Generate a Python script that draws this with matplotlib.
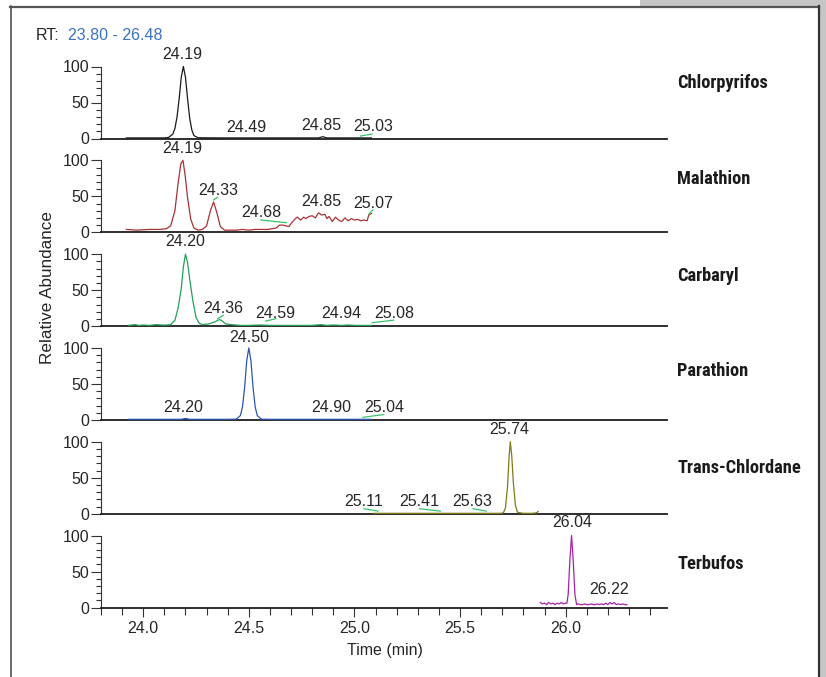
import matplotlib
matplotlib.use("Agg")
import matplotlib.pyplot as plt
from matplotlib.lines import Line2D
from matplotlib.patches import Rectangle
from matplotlib.ticker import MultipleLocator, FixedLocator
from matplotlib import font_manager as fm

plt.rcParams['font.family'] = ['Liberation Sans', 'DejaVu Sans']

# ---------------- data ----------------
compounds = ["Chlorpyrifos", "Malathion", "Carbaryl", "Parathion", "Trans-Chlordane", "Terbufos"]
rt_range = (23.80, 26.48)

t_chlorpyrifos = [23.92, 24.00, 24.10, 24.12, 24.14, 24.15, 24.16, 24.17, 24.18, 24.19, 24.20, 24.21,
                  24.22, 24.23, 24.24, 24.26, 24.40, 24.60, 24.83, 24.85, 24.87, 25.00, 25.08]
v_chlorpyrifos = [0.8, 0.8, 0.8, 1.5, 6, 14, 30, 55, 85, 100, 85, 55,
                  28, 12, 4, 1, 0.8, 0.8, 0.8, 2.5, 0.8, 0.8, 0.8]

t_malathion = [23.92, 23.97, 24.03, 24.08, 24.11, 24.13, 24.15, 24.165, 24.178, 24.188, 24.198, 24.21,
               24.225, 24.24, 24.26, 24.28, 24.30, 24.318, 24.333, 24.348, 24.365, 24.385, 24.41, 24.44,
               24.47, 24.50, 24.53, 24.56, 24.59, 24.61, 24.63, 24.645, 24.66, 24.675, 24.69, 24.705,
               24.72, 24.73, 24.745, 24.76, 24.77, 24.785, 24.80, 24.815, 24.83, 24.845, 24.86, 24.87,
               24.88, 24.895, 24.91, 24.925, 24.94, 24.955, 24.97, 24.985, 25.00, 25.015, 25.03, 25.045,
               25.06, 25.068, 25.08]
v_malathion = [4, 3, 4, 4, 5, 9, 30, 68, 95, 100, 80, 48,
               18, 6, 3, 4, 9, 30, 42, 28, 8, 3, 3, 3,
               4, 3, 4, 4, 4, 5, 6, 10, 10, 9, 8, 14,
               19, 21, 17, 21, 19, 22, 23, 20, 27, 24, 25, 19,
               22, 15, 21, 17, 15, 20, 16, 19, 17, 18, 16, 17,
               16, 24, 26]

t_carbaryl = [23.93, 23.96, 23.98, 24.00, 24.03, 24.06, 24.09, 24.11, 24.13, 24.15, 24.165, 24.18,
              24.19, 24.20, 24.21, 24.22, 24.235, 24.25, 24.265, 24.28, 24.31, 24.34, 24.36, 24.37,
              24.39, 24.42, 24.46, 24.50, 24.55, 24.60, 24.65, 24.70, 24.75, 24.80, 24.84, 24.87,
              24.90, 24.94, 24.97, 25.00, 25.03, 25.06, 25.08]
v_carbaryl = [1, 2, 1, 1.5, 1, 2, 1.5, 1.5, 2, 8, 25, 52,
              82, 100, 88, 65, 35, 12, 4, 2, 3, 6, 9, 8,
              3, 2, 1, 1, 1.5, 1, 1, 1, 1, 1, 2, 1,
              1.5, 1, 1.5, 1, 1, 1, 1]

t_parathion = [23.93, 24.00, 24.10, 24.18, 24.20, 24.22, 24.30, 24.40, 24.44, 24.46, 24.47, 24.48,
               24.49, 24.50, 24.51, 24.52, 24.53, 24.54, 24.56, 24.60, 24.70, 24.80, 24.90, 25.00, 25.08]
v_parathion = [0.8, 0.8, 0.8, 0.8, 2, 0.8, 0.8, 0.8, 1, 6, 18, 45,
               82, 100, 82, 45, 18, 6, 1, 0.8, 0.8, 0.8, 0.8, 0.8, 0.8]

t_chlordane = [25.09, 25.20, 25.30, 25.40, 25.50, 25.60, 25.69, 25.705, 25.715, 25.725, 25.732, 25.738,
               25.745, 25.752, 25.762, 25.772, 25.80, 25.84, 25.86, 25.87]
v_chlordane = [0.5, 0.5, 0.5, 0.5, 0.5, 0.5, 0.5, 1, 8, 38, 78, 100,
               80, 45, 12, 2, 0.5, 0.5, 1, 3]

t_terbufos = [25.88, 25.89, 25.90, 25.91, 25.92, 25.93, 25.94, 25.95, 25.96, 25.97, 25.98, 25.99, 26.00,
              26.006, 26.012, 26.020, 26.028, 26.036, 26.044, 26.052,
              26.06, 26.07, 26.08, 26.09, 26.10, 26.11, 26.12, 26.13, 26.14, 26.15, 26.16, 26.17,
              26.18, 26.19, 26.20, 26.21, 26.22, 26.23, 26.24, 26.25, 26.26, 26.27, 26.28, 26.29]
v_terbufos = [7, 5, 6, 4, 7, 5, 6, 4, 6, 5, 7, 5, 6,
              6, 18, 65, 100, 65, 18, 4,
              5, 4, 4, 5, 4, 4, 5, 4, 4, 5, 4, 5,
              4, 6, 4, 7, 5, 7, 4, 5, 4, 5, 4, 4]

times = [t_chlorpyrifos, t_malathion, t_carbaryl, t_parathion, t_chlordane, t_terbufos]
values = [v_chlorpyrifos, v_malathion, v_carbaryl, v_parathion, v_chlordane, v_terbufos]

# peak labels (retention times shown on each trace)
peak_labels = [
    [24.19, 24.49, 24.85, 25.03],
    [24.19, 24.33, 24.68, 24.85, 25.07],
    [24.20, 24.36, 24.59, 24.94, 25.08],
    [24.50, 24.20, 24.90, 25.04],
    [25.74, 25.11, 25.41, 25.63],
    [26.04, 26.22],
]

# ---------------- layout / style ----------------
colors = ["#1a1a1a", "#a83236", "#23a05a", "#2a55b0", "#7c7a18", "#a424a8"]
marker_green = "#35c46a"
txt_col = "#262626"

# label anchor positions (data units) matching peak_labels
label_pos = [
    [(24.183, 117), (24.490, 15.6), (24.843, 17.8), (25.088, 16.4)],
    [(24.186, 116.7), (24.354, 57.8), (24.557, 27.2), (24.844, 42.5), (25.088, 40.3)],
    [(24.200, 117.2), (24.380, 24.6), (24.626, 17.6), (24.937, 17.6), (25.189, 17.6)],
    [(24.501, 113.9), (24.191, 17.5), (24.891, 17.5), (25.139, 17.5)],
    [(25.735, 116.7), (25.042, 17.1), (25.308, 17.1), (25.559, 17.1)],
    [(26.031, 117.5), (26.206, 25.0)],
]
# small green connector marks (t0, v0, t1, v1)
green_marks = [
    [(25.029, 3.5, 25.084, 6.3)],
    [(24.333, 44.9, 24.352, 48.6), (24.557, 17.1, 24.678, 13.3), (25.068, 25.0, 25.087, 31.0)],
    [(24.352, 10.3, 24.379, 14.9), (24.580, 6.9, 24.628, 10.3), (25.084, 4.7, 25.186, 8.3)],
    [(25.040, 3.6, 25.139, 7.4)],
    [(25.045, 6.9, 25.112, 3.6), (25.308, 6.9, 25.407, 3.6), (25.561, 6.9, 25.624, 3.6)],
    [],
]
name_y_px = [83.3, 179.3, 276, 371.5, 468, 564]


# pick a narrow / condensed bold face for the compound names
def pick_name_font():
    fl = fm.fontManager.ttflist
    def is_bold(f):
        w = f.weight
        if isinstance(w, str):
            return w in ("bold", "heavy", "black", "extra bold", "semibold", "demibold")
        return w >= 600
    for key in ("Liberation Sans Narrow", "Arial Narrow", "Roboto Condensed", "DejaVu Sans Condensed",
                "Open Sans Condensed", "Noto Sans Condensed"):
        for f in fl:
            if f.name == key and is_bold(f):
                return fm.FontProperties(fname=f.fname)
    for f in fl:
        if is_bold(f) and (("Narrow" in f.name) or ("Condensed" in f.name) or
                           (str(f.stretch) in ("condensed", "semi-condensed", "extra-condensed")) or
                           ("Condensed" in f.fname) or ("Narrow" in f.fname)):
            return fm.FontProperties(fname=f.fname)
    for f in fl:
        if f.name == "DejaVu Sans" and is_bold(f):
            return fm.FontProperties(fname=f.fname)
    return fm.FontProperties(family="DejaVu Sans", weight="bold")


name_font = pick_name_font()

W, H = 826, 677
fig = plt.figure(figsize=(W / 100, H / 100), dpi=100)
fig.patch.set_facecolor("white")


def fx(x):
    return x / W


def fy(y):
    return 1 - y / H


# gray background pieces + frame
fig.add_artist(Rectangle((fx(640), fy(6)), fx(W) - fx(640), 1 - fy(6), transform=fig.transFigure,
                         facecolor="#c6c6c6", edgecolor="none", zorder=0))
fig.add_artist(Rectangle((fx(819.5), 0), 1 - fx(819.5), 1, transform=fig.transFigure,
                         facecolor="#c6c6c6", edgecolor="none", zorder=0))
fig.add_artist(Line2D([fx(10.5), fx(10.5)], [0, fy(6)], transform=fig.transFigure, color="#444", lw=1.1))
fig.add_artist(Line2D([fx(10), fx(819)], [fy(6.5), fy(6.5)], transform=fig.transFigure, color="#555", lw=1.6))
fig.add_artist(Line2D([fx(818.5), fx(818.5)], [0, fy(6)], transform=fig.transFigure, color="#333", lw=1.6))

ax_left_px, ax_right_px = 101, 667
zero0, step, height = 138.5, 93.8, 72.0
FS = 11.5

axes = []
name_texts = []
for i in range(6):
    zero = zero0 + step * i
    ax = fig.add_axes([fx(ax_left_px), fy(zero), fx(ax_right_px) - fx(ax_left_px), height / H])
    ax.set_facecolor("none")
    ax.set_xlim(*rt_range)
    ax.set_ylim(0, 100)
    for s in ("top", "right"):
        ax.spines[s].set_visible(False)
    ax.spines["bottom"].set_color("#1e1e1e")
    ax.spines["bottom"].set_linewidth(1.3)
    ax.spines["left"].set_color("#333")
    ax.spines["left"].set_linewidth(0.8)
    ax.yaxis.set_major_locator(FixedLocator([0, 50, 100]))
    ax.yaxis.set_minor_locator(MultipleLocator(10))
    ax.tick_params(axis="y", which="major", length=7, width=0.8, color="#333", pad=1.2,
                   labelsize=FS, labelcolor=txt_col)
    ax.tick_params(axis="y", which="minor", length=3.8, width=0.8, color="#333")
    if i < 5:
        ax.tick_params(axis="x", which="both", bottom=False, labelbottom=False)
    else:
        ax.xaxis.set_major_locator(FixedLocator([24.0, 24.5, 25.0, 25.5, 26.0]))
        ax.xaxis.set_minor_locator(FixedLocator([23.8 + 0.1 * k for k in range(27)]))
        ax.xaxis.set_major_formatter(matplotlib.ticker.FormatStrFormatter("%.1f"))
        ax.tick_params(axis="x", which="major", length=6.5, width=0.8, color="#333", pad=3,
                       labelsize=FS, labelcolor=txt_col)
        ax.tick_params(axis="x", which="minor", length=5, width=0.8, color="#333")
    ax.plot(times[i], values[i], color=colors[i], lw=0.9, clip_on=False, zorder=3)
    for (t0, v0, t1, v1) in green_marks[i]:
        ax.plot([t0, t1], [v0, v1], color=marker_green, lw=0.9, clip_on=False, zorder=4)
    for lab, (px, py) in zip(peak_labels[i], label_pos[i]):
        ax.text(px, py, f"{lab:.2f}", ha="center", va="center", fontsize=FS, color=txt_col,
                clip_on=False, zorder=5)
    nt = fig.text(fx(677), fy(name_y_px[i]), compounds[i], ha="left", va="center",
                  fontproperties=name_font, color="#1a1a1a")
    nt.set_fontsize(13.5)
    name_texts.append(nt)
    axes.append(ax)

# scale the compound-name size so the longest name spans ~124 px as in the reference
renderer = fig.canvas.get_renderer()
longest = name_texts[compounds.index(max(compounds, key=len))]
w = longest.get_window_extent(renderer=renderer).width
size = min(14.5, 13.5 * 124.0 / w) if w > 0 else 12
for nt in name_texts:
    nt.set_fontsize(size)

# header and axis titles
fig.text(fx(36), fy(35), "RT:", ha="left", va="center", fontsize=FS, color=txt_col)
fig.text(fx(68.5), fy(35), f"{rt_range[0]:.2f} - {rt_range[1]:.2f}", ha="left", va="center",
         fontsize=FS, color="#3a72c4")
fig.text(fx(48), fy(288), "Relative Abundance", rotation=90, ha="center", va="center",
         fontsize=12.3, color=txt_col)
fig.text(fx(385), fy(651), "Time (min)", ha="center", va="center", fontsize=FS, color=txt_col)

fig.savefig("out.png", dpi=100, facecolor="white")
